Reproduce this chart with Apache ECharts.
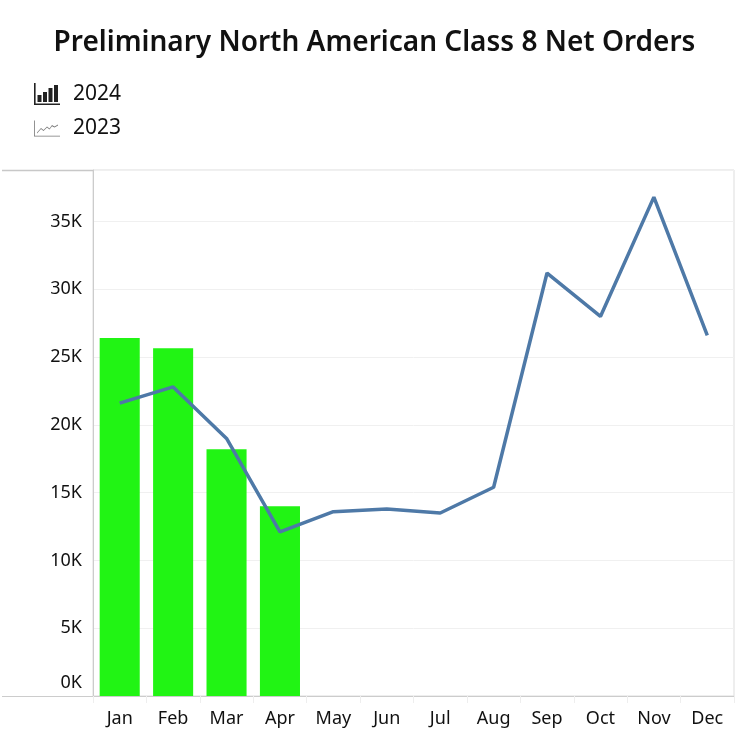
<!DOCTYPE html>
<html><head><meta charset="utf-8">
<script src="https://cdn.jsdelivr.net/npm/echarts@6/dist/echarts.min.js"></script>
<style>html,body{margin:0;padding:0;background:#fff}#c{width:749px;height:749px}</style>
</head><body><div id="c"></div>
<script>
const months = ['Jan','Feb','Mar','Apr','May','Jun','Jul','Aug','Sep','Oct','Nov','Dec'];
const orders2024 = [26400, 25650, 18200, 14000, null, null, null, null, null, null, null, null];
const orders2023 = [21600, 22800, 19000, 12100, 13600, 13800, 13500, 15400, 31200, 28000, 36800, 26600];
const yTicks = [0, 5000, 10000, 15000, 20000, 25000, 30000, 35000];

const FONT = '"Noto Sans", sans-serif';
const barIcon = 'path://M0,0 L1.6,0 L1.6,20.4 L26,20.4 L26,22 L0,22 Z M3.5,12 L7.5,12 L7.5,19 L3.5,19 Z M9,9 L13,9 L13,19 L9,19 Z M14.5,5 L18.5,5 L18.5,19 L14.5,19 Z M20,2 L24,2 L24,19 L20,19 Z';
const lineIcon = 'path://M0,0 L0.8,0 L0.8,15.2 L26,15.2 L26,16 L0,16 Z M3,12 L7,7.5 L9.5,9.5 L13,6 L15.5,8 L18,4.5 L20.5,6 L24,4 L24,5 L20.5,7 L18,5.7 L15.5,9 L13,7 L9.5,10.6 L7,8.6 L3,13 Z';

const chart = echarts.init(document.getElementById('c'), null, {renderer: 'canvas'});
chart.setOption({
  animation: false,
  title: {
    text: 'Preliminary North American Class 8 Net Orders',
    left: 'center', top: 24,
    textStyle: {fontFamily: FONT, fontSize: 28, fontWeight: 600, color: '#111'}
  },
  legend: {
    orient: 'vertical', left: 29, top: 78, itemGap: 13,
    itemWidth: 26, itemHeight: 22,
    textStyle: {fontFamily: FONT, fontSize: 21, color: '#111', padding: [0, 0, 0, 8]},
    data: [
      {name: '2024', icon: barIcon, itemStyle: {color: '#222'}},
      {name: '2023', icon: lineIcon, itemStyle: {color: '#777'}}
    ]
  },
  grid: {left: 93, right: 15, top: 170, bottom: 53, show: true, borderColor: '#dddddd', borderWidth: 1},
  xAxis: {
    type: 'category', data: months,
    axisLine: {show: true, lineStyle: {color: '#cccccc', width: 1}},
    axisTick: {show: true, length: 7, lineStyle: {color: '#eeeeee'}},
    axisLabel: {fontFamily: FONT, fontSize: 18, color: '#111', margin: 14}
  },
  yAxis: {
    type: 'value', min: 0, max: 38800, interval: 5000,
    axisLine: {show: true, lineStyle: {color: '#cccccc'}},
    axisTick: {show: false},
    splitLine: {show: true, lineStyle: {color: '#f0f0f0'}},
    axisLabel: {
      fontFamily: FONT, fontSize: 18, color: '#111', margin: 11,
      formatter: v => (yTicks.indexOf(v) < 0 ? '' : (v === 0 ? '{z|0K}' : (v / 1000) + 'K')),
      rich: {z: {fontFamily: FONT, fontSize: 18, color: '#111', padding: [0, 0, 26, 0]}},
      showMaxLabel: false
    }
  },
  graphic: [
    {type: 'line', shape: {x1: 2, y1: 170.5, x2: 93, y2: 170.5}, style: {stroke: '#c8c8c8', lineWidth: 1.5}, z: 10},
    {type: 'line', shape: {x1: 2, y1: 696.5, x2: 93, y2: 696.5}, style: {stroke: '#cccccc', lineWidth: 1}, z: 10}
  ],
  series: [
    {
      name: '2024', type: 'bar', data: orders2024, barCategoryGap: '25%',
      itemStyle: {color: '#21f414'}, z: 2
    },
    {
      name: '2023', type: 'line', data: orders2023, symbol: 'none',
      lineStyle: {color: '#4e79a7', width: 3.5}, itemStyle: {color: '#4e79a7'}, z: 3
    }
  ]
});
</script></body></html>
